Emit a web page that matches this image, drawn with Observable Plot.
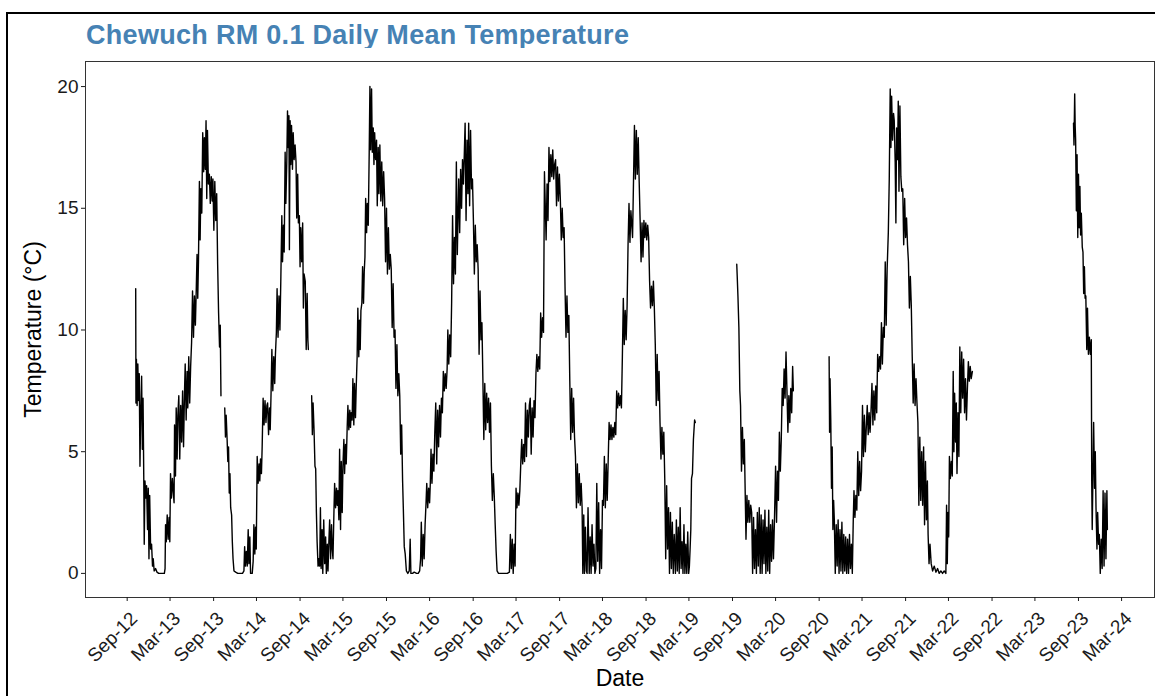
<!DOCTYPE html>
<html>
<head>
<meta charset="utf-8">
<script src="https://cdn.jsdelivr.net/npm/d3@7"></script>
<script src="https://cdn.jsdelivr.net/npm/@observablehq/plot@0.6"></script>
<style>
  body { margin: 0; background: #fff; }
  #wrap { position: relative; width: 1155px; height: 696px; overflow: hidden; background: #fff;
          font-family: "Liberation Sans", Arial, sans-serif; }
  #frame { position: absolute; left: 6px; top: 12px; width: 1300px; height: 900px;
           border: 2px solid #000; box-sizing: border-box; pointer-events: none; }
  #title { position: absolute; left: 86px; top: 22px; font-weight: bold; font-size: 27px; line-height: 27px;
           letter-spacing: 0.3px; color: #4682B4; white-space: nowrap; }
  #chart { position: absolute; left: 0; top: 48px; }
</style>
</head>
<body>
<div id="wrap">
  <div id="title">Chewuch RM 0.1 Daily Mean Temperature</div>
  <div id="chart"></div>
  <div id="frame"></div>
</div>
<script>
// ---- Data ----
const deploy2012 = [
["2012-10-07",11.7],["2012-10-08",7.0],["2012-10-10",8.8],["2012-10-13",6.9],["2012-10-16",8.6],["2012-10-19",7.1],
["2012-10-22",8.2],["2012-10-25",4.4],["2012-10-28",6.5],["2012-11-01",8.1],["2012-11-04",5.1],["2012-11-07",7.2],
["2012-11-10",4.0],["2012-11-12",1.2],["2012-11-15",3.8],["2012-11-19",3.1],["2012-11-22",3.6],["2012-11-26",1.8],
["2012-11-29",3.5],["2012-12-02",0.6],["2012-12-05",3.2],["2012-12-09",1.0],["2012-12-13",1.2],["2012-12-17",0.3],
["2012-12-20",0.6],["2012-12-24",0.1],["2012-12-30",0.2],["2013-01-05",0.05],["2013-01-12",0.0],["2013-01-20",0.0],
["2013-01-28",0.0],["2013-02-05",0.0],["2013-02-08",0.2],["2013-02-10",2.0],["2013-02-13",1.3],["2013-02-17",2.4],
["2013-02-21",1.4],["2013-02-25",2.3],["2013-02-28",1.3],["2013-03-03",4.1],["2013-03-07",3.1],["2013-03-11",3.9],
["2013-03-15",3.3],["2013-03-18",2.9],["2013-03-20",6.1],["2013-03-24",4.0],["2013-03-27",6.8],["2013-03-31",4.7],
["2013-04-03",6.5],["2013-04-07",7.3],["2013-04-11",4.7],["2013-04-15",6.9],["2013-04-19",5.4],["2013-04-23",7.5],
["2013-04-27",5.2],["2013-05-01",7.4],["2013-05-04",8.6],["2013-05-08",6.3],["2013-05-12",8.3],["2013-05-15",6.8],
["2013-05-19",8.9],["2013-05-23",7.0],["2013-05-27",8.5],["2013-05-31",9.5],["2013-06-04",11.6],["2013-06-08",9.7],
["2013-06-12",11.4],["2013-06-16",10.2],["2013-06-20",11.8],["2013-06-23",13.1],["2013-06-26",11.3],["2013-06-29",12.8],
["2013-07-03",16.1],["2013-07-06",13.7],["2013-07-09",15.8],["2013-07-13",14.8],["2013-07-17",18.1],["2013-07-21",16.5],
["2013-07-24",17.9],["2013-07-28",16.6],["2013-07-31",18.6],["2013-08-03",15.4],["2013-08-06",18.2],["2013-08-10",16.0],
["2013-08-14",16.4],["2013-08-18",15.2],["2013-08-22",16.3],["2013-08-26",15.3],["2013-08-29",16.2],["2013-09-02",14.1],
["2013-09-06",16.1],["2013-09-10",14.5],["2013-09-14",15.6],["2013-09-18",12.7],["2013-09-22",10.7],["2013-09-26",9.3],
["2013-09-29",10.2],["2013-10-02",7.3]
];
const deploy2013 = [
["2013-10-18",6.8],["2013-10-21",5.6],["2013-10-24",6.5],["2013-10-28",5.5],["2013-10-31",4.6],["2013-11-03",5.2],
["2013-11-06",3.3],["2013-11-09",4.1],["2013-11-12",2.7],["2013-11-16",2.4],["2013-11-19",1.3],["2013-11-22",0.6],
["2013-11-26",0.1],["2013-12-03",0.05],["2013-12-12",0.0],["2013-12-22",0.0],["2014-01-01",0.0],["2014-01-07",0.1],
["2014-01-10",1.1],["2014-01-13",0.3],["2014-01-17",0.9],["2014-01-21",0.3],["2014-01-25",1.8],["2014-01-28",0.4],
["2014-02-01",1.5],["2014-02-04",0.0],["2014-02-11",0.0],["2014-02-15",0.5],["2014-02-18",2.0],["2014-02-22",0.8],
["2014-02-25",1.9],["2014-02-28",1.0],["2014-03-04",4.8],["2014-03-08",3.7],["2014-03-12",4.5],["2014-03-15",3.8],
["2014-03-18",4.7],["2014-03-22",4.1],["2014-03-25",5.2],["2014-03-29",7.2],["2014-04-02",6.1],["2014-04-06",7.1],
["2014-04-10",6.2],["2014-04-14",6.9],["2014-04-17",7.0],["2014-04-21",5.7],["2014-04-25",6.8],["2014-04-28",5.9],
["2014-05-02",7.6],["2014-05-05",9.2],["2014-05-09",7.5],["2014-05-13",8.9],["2014-05-17",7.8],["2014-05-20",9.0],
["2014-05-24",9.9],["2014-05-27",11.7],["2014-05-31",9.7],["2014-06-04",11.4],["2014-06-08",10.0],["2014-06-12",12.2],
["2014-06-16",14.7],["2014-06-19",12.8],["2014-06-23",14.3],["2014-06-26",13.2],["2014-06-30",17.3],["2014-07-03",15.2],
["2014-07-07",16.9],["2014-07-10",19.0],["2014-07-13",17.5],["2014-07-16",18.8],["2014-07-18",13.3],["2014-07-21",18.6],
["2014-07-24",16.8],["2014-07-27",18.4],["2014-07-31",16.6],["2014-08-03",18.1],["2014-08-07",17.0],["2014-08-11",17.6],
["2014-08-15",16.9],["2014-08-18",14.6],["2014-08-22",16.4],["2014-08-25",14.4],["2014-08-29",14.7],["2014-09-01",12.6],
["2014-09-04",14.2],["2014-09-08",12.8],["2014-09-12",14.4],["2014-09-15",10.9],["2014-09-18",12.3],["2014-09-23",12.0],
["2014-09-27",9.2],["2014-10-01",11.5],["2014-10-04",9.6],["2014-10-06",9.2]
];
const deploy2014 = [
["2014-10-20",7.3],["2014-10-23",5.7],["2014-10-26",7.0],["2014-10-30",5.9],["2014-11-03",4.4],["2014-11-06",4.3],
["2014-11-09",2.5],["2014-11-12",1.3],["2014-11-16",0.3],["2014-11-19",0.6],["2014-11-23",0.3],["2014-11-26",2.7],
["2014-11-29",0.2],["2014-12-03",1.8],["2014-12-06",0.0],["2014-12-10",2.2],["2014-12-14",0.4],["2014-12-18",1.5],
["2014-12-21",0.0],["2014-12-25",1.2],["2014-12-28",0.1],["2015-01-01",1.4],["2015-01-04",2.2],["2015-01-08",0.6],
["2015-01-12",2.0],["2015-01-15",1.0],["2015-01-18",0.6],["2015-01-22",2.5],["2015-01-25",3.7],["2015-01-29",2.7],
["2015-02-02",3.5],["2015-02-05",2.8],["2015-02-08",3.4],["2015-02-12",2.2],["2015-02-15",5.1],["2015-02-19",1.8],
["2015-02-22",4.6],["2015-02-26",2.5],["2015-03-01",4.4],["2015-03-05",5.5],["2015-03-08",4.1],["2015-03-12",5.3],
["2015-03-15",4.5],["2015-03-19",6.0],["2015-03-22",6.9],["2015-03-26",5.9],["2015-03-30",6.7],["2015-04-02",6.0],
["2015-04-05",6.6],["2015-04-09",6.3],["2015-04-12",8.0],["2015-04-16",6.1],["2015-04-19",7.8],["2015-04-23",6.4],
["2015-04-26",7.6],["2015-04-30",8.9],["2015-05-03",10.9],["2015-05-07",8.9],["2015-05-10",10.4],["2015-05-13",9.2],
["2015-05-16",10.8],["2015-05-20",11.1],["2015-05-23",12.6],["2015-05-27",11.1],["2015-05-30",12.4],["2015-06-02",13.0],
["2015-06-05",15.4],["2015-06-09",14.0],["2015-06-12",15.2],["2015-06-16",14.3],["2015-06-20",17.3],["2015-06-23",20.0],
["2015-06-26",17.4],["2015-06-30",19.9],["2015-07-03",17.3],["2015-07-07",18.3],["2015-07-10",16.8],["2015-07-13",18.1],
["2015-07-17",17.0],["2015-07-21",17.8],["2015-07-24",15.1],["2015-07-28",17.5],["2015-07-31",15.6],["2015-08-04",17.6],
["2015-08-08",15.3],["2015-08-12",16.9],["2015-08-16",15.1],["2015-08-20",16.5],["2015-08-24",15.4],["2015-08-28",12.8],
["2015-09-01",15.0],["2015-09-05",12.3],["2015-09-09",14.2],["2015-09-13",12.5],["2015-09-17",13.1],["2015-09-21",12.5],
["2015-09-25",10.1],["2015-09-29",11.9],["2015-10-03",9.7],["2015-10-07",10.0],["2015-10-11",7.6],["2015-10-15",9.4],
["2015-10-19",7.3],["2015-10-23",8.2],["2015-10-27",7.3],["2015-10-31",4.9],["2015-11-04",6.1],["2015-11-08",3.8],
["2015-11-11",2.7],["2015-11-15",1.1],["2015-11-19",0.8],["2015-11-24",0.1],["2015-11-30",0.0],["2015-12-06",0.1],
["2015-12-10",1.4],["2015-12-13",0.0],["2015-12-20",0.0],["2015-12-27",0.05],["2016-01-06",0.0],["2016-01-13",0.0],
["2016-01-19",0.1],["2016-01-23",0.6],["2016-01-26",2.1],["2016-01-30",0.3],["2016-02-03",1.6],["2016-02-07",0.6],
["2016-02-11",2.0],["2016-02-15",2.9],["2016-02-18",3.7],["2016-02-22",2.7],["2016-02-26",3.5],["2016-03-01",2.9],
["2016-03-04",3.7],["2016-03-07",5.1],["2016-03-11",3.7],["2016-03-15",4.9],["2016-03-19",4.2],["2016-03-23",5.8],
["2016-03-27",7.0],["2016-03-31",4.5],["2016-04-04",6.7],["2016-04-08",5.2],["2016-04-12",6.9],["2016-04-16",5.6],
["2016-04-20",7.2],["2016-04-24",6.6],["2016-04-28",8.3],["2016-05-02",7.5],["2016-05-06",8.2],["2016-05-10",7.6],
["2016-05-14",8.4],["2016-05-17",10.0],["2016-05-21",8.6],["2016-05-25",9.8],["2016-05-29",8.9],["2016-06-02",11.1],
["2016-06-06",14.7],["2016-06-10",11.9],["2016-06-14",13.8],["2016-06-18",12.3],["2016-06-22",16.9],["2016-06-26",13.1],
["2016-07-02",16.2],["2016-07-06",14.0],["2016-07-10",16.6],["2016-07-14",15.0],["2016-07-18",17.0],["2016-07-22",16.0],
["2016-07-26",17.4],["2016-07-29",18.5],["2016-08-02",14.5],["2016-08-06",17.8],["2016-08-10",15.6],["2016-08-13",18.5],
["2016-08-17",15.1],["2016-08-21",18.2],["2016-08-25",15.8],["2016-08-29",16.2],["2016-09-02",14.5],["2016-09-06",12.3],
["2016-09-10",14.3],["2016-09-14",12.8],["2016-09-18",13.5],["2016-09-22",12.5],["2016-09-26",9.0],["2016-09-30",11.6],
["2016-10-04",9.6],["2016-10-08",10.3],["2016-10-12",8.0],["2016-10-16",5.5],["2016-10-20",7.8],["2016-10-24",5.9],
["2016-10-28",7.4],["2016-11-01",6.2],["2016-11-05",7.2],["2016-11-09",5.8],["2016-11-13",7.0],["2016-11-17",4.4],
["2016-11-21",3.0],["2016-11-25",4.1],["2016-11-29",3.2],["2016-12-03",2.0],["2016-12-07",0.9],["2016-12-11",0.1],
["2016-12-17",0.0],["2016-12-25",0.0],["2017-01-05",0.0],["2017-01-14",0.0],["2017-01-23",0.0],["2017-02-01",0.05],
["2017-02-05",1.6],["2017-02-09",0.2],["2017-02-13",1.4],["2017-02-17",0.0],["2017-02-21",1.2],["2017-02-25",0.3],
["2017-03-01",3.5],["2017-03-05",2.7],["2017-03-09",3.3],["2017-03-13",2.8],["2017-03-17",3.4],["2017-03-21",4.5],
["2017-03-25",5.5],["2017-03-29",4.5],["2017-04-02",5.3],["2017-04-06",4.6],["2017-04-10",7.0],["2017-04-14",4.8],
["2017-04-18",6.7],["2017-04-22",5.6],["2017-04-26",6.9],["2017-04-30",7.2],["2017-05-04",4.9],["2017-05-08",6.8],
["2017-05-12",5.6],["2017-05-16",7.1],["2017-05-20",6.4],["2017-05-24",8.2],["2017-05-28",9.0],["2017-06-01",8.3],
["2017-06-05",8.9],["2017-06-09",8.4],["2017-06-13",10.7],["2017-06-17",9.7],["2017-06-21",10.5],["2017-06-25",9.9],
["2017-06-29",16.5],["2017-07-06",13.7],["2017-07-10",16.0],["2017-07-14",14.5],["2017-07-18",17.5],["2017-07-22",16.1],
["2017-07-26",17.2],["2017-07-30",16.3],["2017-08-03",17.4],["2017-08-07",16.2],["2017-08-11",16.8],["2017-08-15",17.0],
["2017-08-19",15.1],["2017-08-23",16.7],["2017-08-27",15.3],["2017-08-31",16.4],["2017-09-04",15.4],["2017-09-08",13.7],
["2017-09-12",15.0],["2017-09-16",13.8],["2017-09-20",14.2],["2017-09-24",11.7],["2017-09-28",9.7],["2017-10-02",11.4],
["2017-10-06",9.9],["2017-10-10",10.6],["2017-10-14",7.9],["2017-10-18",5.5],["2017-10-22",7.6],["2017-10-26",5.8],
["2017-10-30",7.2],["2017-11-03",5.6],["2017-11-07",4.8],["2017-11-11",2.7],["2017-11-15",4.5],["2017-11-19",2.9],
["2017-11-23",4.1],["2017-11-27",2.8],["2017-12-01",3.7],["2017-12-05",2.7],["2017-12-08",0.0],["2017-12-12",2.4],
["2017-12-15",0.0],["2017-12-19",1.9],["2017-12-23",0.1],["2017-12-26",0.0],["2017-12-30",2.7],["2018-01-04",0.0],
["2018-01-08",1.5],["2018-01-12",0.0],["2018-01-16",2.0],["2018-01-20",0.3],["2018-01-24",1.2],["2018-01-28",0.0],
["2018-02-01",0.2],["2018-02-05",3.7],["2018-02-09",0.5],["2018-02-13",2.9],["2018-02-17",0.0],["2018-02-21",1.8],
["2018-02-25",0.2],["2018-03-01",3.0],["2018-03-05",2.8],["2018-03-09",4.8],["2018-03-13",2.7],["2018-03-17",4.5],
["2018-03-21",3.0],["2018-03-25",4.6],["2018-03-29",6.2],["2018-04-02",5.5],["2018-04-06",6.1],["2018-04-10",5.5],
["2018-04-14",6.0],["2018-04-18",5.6],["2018-04-22",6.2],["2018-04-26",5.7],["2018-04-30",7.5],["2018-05-04",6.8],
["2018-05-08",7.4],["2018-05-12",6.9],["2018-05-16",7.3],["2018-05-20",6.8],["2018-05-24",8.9],["2018-05-28",11.3],
["2018-06-01",9.4],["2018-06-05",10.8],["2018-06-09",9.6],["2018-06-13",11.0],["2018-06-17",13.5],["2018-06-21",15.2],
["2018-06-25",13.6],["2018-06-29",14.9],["2018-07-06",13.8],["2018-07-10",16.1],["2018-07-14",18.4],["2018-07-18",16.2],
["2018-07-22",18.2],["2018-07-26",16.4],["2018-07-30",17.9],["2018-08-03",16.1],["2018-08-07",14.5],["2018-08-11",12.8],
["2018-08-15",14.4],["2018-08-19",13.0],["2018-08-23",14.5],["2018-08-27",13.8],["2018-08-31",14.4],["2018-09-04",13.7],
["2018-09-08",14.3],["2018-09-12",13.8],["2018-09-16",12.0],["2018-09-20",10.9],["2018-09-24",11.8],["2018-09-28",11.0],
["2018-10-02",12.0],["2018-10-06",10.9],["2018-10-10",9.4],["2018-10-14",6.9],["2018-10-18",9.0],["2018-10-22",7.1],
["2018-10-26",8.3],["2018-10-30",6.2],["2018-11-03",4.7],["2018-11-07",6.0],["2018-11-11",4.9],["2018-11-15",5.8],
["2018-11-19",3.9],["2018-11-23",0.6],["2018-11-27",3.6],["2018-12-01",1.0],["2018-12-05",2.7],["2018-12-09",0.0],
["2018-12-13",2.5],["2018-12-17",0.2],["2018-12-21",2.1],["2018-12-25",0.0],["2018-12-29",1.6],["2019-01-03",0.0],
["2019-01-07",2.2],["2019-01-11",0.1],["2019-01-15",1.9],["2019-01-19",0.0],["2019-01-23",2.7],["2019-01-27",0.2],
["2019-01-31",1.3],["2019-02-04",0.0],["2019-02-08",2.0],["2019-02-12",0.0],["2019-02-16",1.2],["2019-02-20",0.0],
["2019-02-24",1.7],["2019-02-28",0.0],["2019-03-03",0.3],["2019-03-06",1.0],["2019-03-09",1.8],["2019-03-12",3.9],
["2019-03-16",4.1],["2019-03-20",5.5],["2019-03-25",6.3],["2019-03-28",6.2]
];
const deploy2019 = [
["2019-09-19",12.7],["2019-09-21",12.2],["2019-09-24",11.4],["2019-09-28",10.1],["2019-10-02",7.5],["2019-10-05",6.9],
["2019-10-09",4.2],["2019-10-13",6.0],["2019-10-17",4.5],["2019-10-21",5.5],["2019-10-24",3.7],["2019-10-28",1.4],
["2019-11-01",3.2],["2019-11-05",2.1],["2019-11-09",3.0],["2019-11-13",2.1],["2019-11-17",2.8],["2019-11-21",2.5],
["2019-11-25",0.0],["2019-11-29",2.3],["2019-12-03",0.2],["2019-12-07",1.8],["2019-12-11",0.0],["2019-12-15",2.5],
["2019-12-19",0.3],["2019-12-23",2.7],["2019-12-27",0.0],["2019-12-31",2.4],["2020-01-04",0.0],["2020-01-08",2.2],
["2020-01-12",0.4],["2020-01-16",2.6],["2020-01-20",0.0],["2020-01-24",1.9],["2020-01-28",0.1],["2020-02-01",2.6],
["2020-02-05",0.0],["2020-02-09",2.0],["2020-02-13",0.5],["2020-02-17",2.2],["2020-02-21",0.6],["2020-02-25",2.1],
["2020-03-01",4.4],["2020-03-05",2.1],["2020-03-09",4.2],["2020-03-13",3.0],["2020-03-17",5.8],["2020-03-21",4.2],
["2020-03-25",5.5],["2020-03-29",7.6],["2020-04-02",6.9],["2020-04-06",8.4],["2020-04-10",7.2],["2020-04-14",9.1],
["2020-04-18",7.5],["2020-04-22",5.8],["2020-04-26",7.3],["2020-04-30",6.2],["2020-05-04",7.6],["2020-05-08",6.6],
["2020-05-12",8.5],["2020-05-15",7.5]
];
const deploy2020 = [
["2020-10-13",8.9],["2020-10-15",5.8],["2020-10-17",8.0],["2020-10-20",6.3],["2020-10-23",3.5],["2020-10-26",5.2],
["2020-10-29",1.8],["2020-11-01",3.0],["2020-11-04",2.2],["2020-11-08",0.0],["2020-11-12",2.0],["2020-11-16",0.3],
["2020-11-20",2.2],["2020-11-24",0.0],["2020-11-28",1.8],["2020-12-02",0.1],["2020-12-06",2.1],["2020-12-10",0.0],
["2020-12-14",1.6],["2020-12-18",0.1],["2020-12-22",1.5],["2020-12-26",0.0],["2020-12-30",1.4],["2021-01-03",0.0],
["2021-01-07",1.6],["2021-01-11",0.2],["2021-01-15",1.2],["2021-01-19",0.0],["2021-01-23",2.2],["2021-01-26",3.4],
["2021-01-30",2.3],["2021-02-03",3.2],["2021-02-07",2.6],["2021-02-11",5.0],["2021-02-15",3.2],["2021-02-19",4.6],
["2021-02-23",3.4],["2021-02-27",4.2],["2021-03-03",6.9],["2021-03-07",4.8],["2021-03-11",6.5],["2021-03-15",5.0],
["2021-03-19",6.0],["2021-03-23",6.9],["2021-03-27",5.7],["2021-03-31",6.6],["2021-04-04",5.8],["2021-04-08",6.7],
["2021-04-12",7.8],["2021-04-16",6.1],["2021-04-20",7.5],["2021-04-24",6.3],["2021-04-28",7.7],["2021-05-02",6.6],
["2021-05-06",9.0],["2021-05-10",8.3],["2021-05-14",8.9],["2021-05-18",8.4],["2021-05-22",10.3],["2021-05-26",8.6],
["2021-05-30",10.1],["2021-06-03",9.7],["2021-06-07",12.8],["2021-06-11",10.2],["2021-06-15",12.5],["2021-06-20",14.0],
["2021-06-24",16.2],["2021-06-28",19.9],["2021-07-01",17.5],["2021-07-04",19.6],["2021-07-08",17.8],["2021-07-12",18.9],
["2021-07-15",18.6],["2021-07-19",16.9],["2021-07-22",14.4],["2021-07-25",18.3],["2021-07-29",17.0],["2021-08-01",19.4],
["2021-08-04",15.7],["2021-08-08",19.2],["2021-08-12",16.3],["2021-08-16",15.7],["2021-08-20",15.8],["2021-08-24",13.5],
["2021-08-28",15.4],["2021-09-01",13.8],["2021-09-05",14.6],["2021-09-09",13.5],["2021-09-13",12.8],["2021-09-17",10.9],
["2021-09-21",12.2],["2021-09-25",11.0],["2021-09-29",8.9],["2021-10-03",7.0],["2021-10-07",8.6],["2021-10-11",6.9],
["2021-10-15",8.0],["2021-10-19",7.0],["2021-10-23",6.2],["2021-10-27",2.8],["2021-10-31",5.6],["2021-11-04",3.0],
["2021-11-08",5.0],["2021-11-12",2.8],["2021-11-16",5.2],["2021-11-20",2.0],["2021-11-24",4.6],["2021-11-28",2.2],
["2021-12-02",3.8],["2021-12-05",1.6],["2021-12-09",0.4],["2021-12-13",1.2],["2021-12-18",0.4],["2021-12-24",0.1],
["2021-12-31",0.3],["2022-01-07",0.05],["2022-01-14",0.2],["2022-01-21",0.0],["2022-01-28",0.1],["2022-02-04",0.0],
["2022-02-11",0.1],["2022-02-18",0.0],["2022-02-21",2.8],["2022-02-24",0.4],["2022-02-27",2.5],["2022-03-02",1.5],
["2022-03-05",4.8],["2022-03-09",3.9],["2022-03-13",4.6],["2022-03-17",4.0],["2022-03-21",8.3],["2022-03-24",5.0],
["2022-03-27",7.4],["2022-03-31",5.4],["2022-04-03",7.0],["2022-04-06",4.1],["2022-04-10",6.6],["2022-04-14",4.8],
["2022-04-18",9.3],["2022-04-22",6.6],["2022-04-26",9.1],["2022-04-30",7.2],["2022-05-04",8.8],["2022-05-08",6.6],
["2022-05-12",8.0],["2022-05-16",6.3],["2022-05-20",7.6],["2022-05-24",8.7],["2022-05-28",7.9],["2022-06-01",8.5],
["2022-06-05",8.0],["2022-06-10",8.3]
];
const deploy2023 = [
["2023-08-11",18.5],["2023-08-13",17.6],["2023-08-16",19.7],["2023-08-18",18.4],["2023-08-20",17.8],["2023-08-23",14.9],
["2023-08-26",17.2],["2023-08-29",13.8],["2023-09-01",16.4],["2023-09-04",14.2],["2023-09-07",15.9],["2023-09-10",13.9],
["2023-09-13",14.8],["2023-09-17",13.4],["2023-09-20",13.2],["2023-09-23",11.5],["2023-09-26",12.6],["2023-09-29",11.3],
["2023-10-02",11.4],["2023-10-06",9.2],["2023-10-09",10.9],["2023-10-13",9.0],["2023-10-17",9.7],["2023-10-21",9.0],
["2023-10-25",9.6],["2023-10-27",3.7],["2023-10-29",1.8],["2023-11-01",4.0],["2023-11-04",6.2],["2023-11-08",3.5],
["2023-11-11",5.0],["2023-11-14",2.7],["2023-11-18",1.0],["2023-11-21",2.5],["2023-11-25",1.2],["2023-11-28",1.6],
["2023-12-02",0.0],["2023-12-06",1.4],["2023-12-10",0.2],["2023-12-14",3.4],["2023-12-18",0.3],["2023-12-22",3.3],
["2023-12-26",0.6],["2023-12-30",3.4],["2024-01-01",1.8]
];
const deployments = [deploy2012, deploy2013, deploy2014, deploy2019, deploy2020, deploy2023];

const xTicks = ["2012-09-01","2013-03-01","2013-09-01","2014-03-01","2014-09-01","2015-03-01","2015-09-01",
  "2016-03-01","2016-09-01","2017-03-01","2017-09-01","2018-03-01","2018-09-01","2019-03-01","2019-09-01",
  "2020-03-01","2020-09-01","2021-03-01","2021-09-01","2022-03-01","2022-09-01","2023-03-01","2023-09-01","2024-03-01"];
const yTicks = [0, 5, 10, 15, 20];
const xDomain = ["2012-03-09", "2024-07-18"];
const yDomain = [-0.99, 21.03];

// ---- Build table ----
const parse = d3.utcParse("%Y-%m-%d");
const rows = deployments.flatMap((dep, k) =>
  dep.map(([d, t]) => ({date: parse(d), temp: t, deployment: k})));
const xTickDates = xTicks.map(parse);

const chart = Plot.plot({
  width: 1155,
  height: 648,
  marginLeft: 85,
  marginRight: 1,
  marginTop: 13,
  marginBottom: 99,
  style: {fontFamily: "'Liberation Sans', Arial, sans-serif", color: "#1a1a1a", background: "white", overflow: "visible"},
  x: {type: "utc", domain: xDomain.map(parse)},
  y: {domain: yDomain},
  marks: [
    Plot.line(rows, {x: "date", y: "temp", z: "deployment", stroke: "#000", strokeWidth: 1.4}),
    Plot.frame({stroke: "#333", strokeWidth: 1}),
    Plot.axisY({ticks: yTicks, tickSize: 4, tickPadding: 3, fontSize: 19, label: null}),
    // tick marks only
    Plot.axisX({ticks: xTickDates, tickFormat: () => "", tickSize: 4, label: null}),
    // rotated tick labels
    Plot.axisX({ticks: xTickDates, tickFormat: d3.utcFormat("%b-%y"), tickSize: 0, tickPadding: 7,
                tickRotate: -45, fontSize: 19, dx: 7, dy: 11, label: null}),
    Plot.text(["Temperature (°C)"], {text: d => d, frameAnchor: "left", textAnchor: "middle", dx: -52, rotate: -90,
                fontSize: 23, fill: "#000"}),
    Plot.text(["Date"], {text: d => d, frameAnchor: "bottom", dy: 88, fontSize: 23, fill: "#000"})
  ]
});
document.getElementById("chart").appendChild(chart);
</script>
</body>
</html>
